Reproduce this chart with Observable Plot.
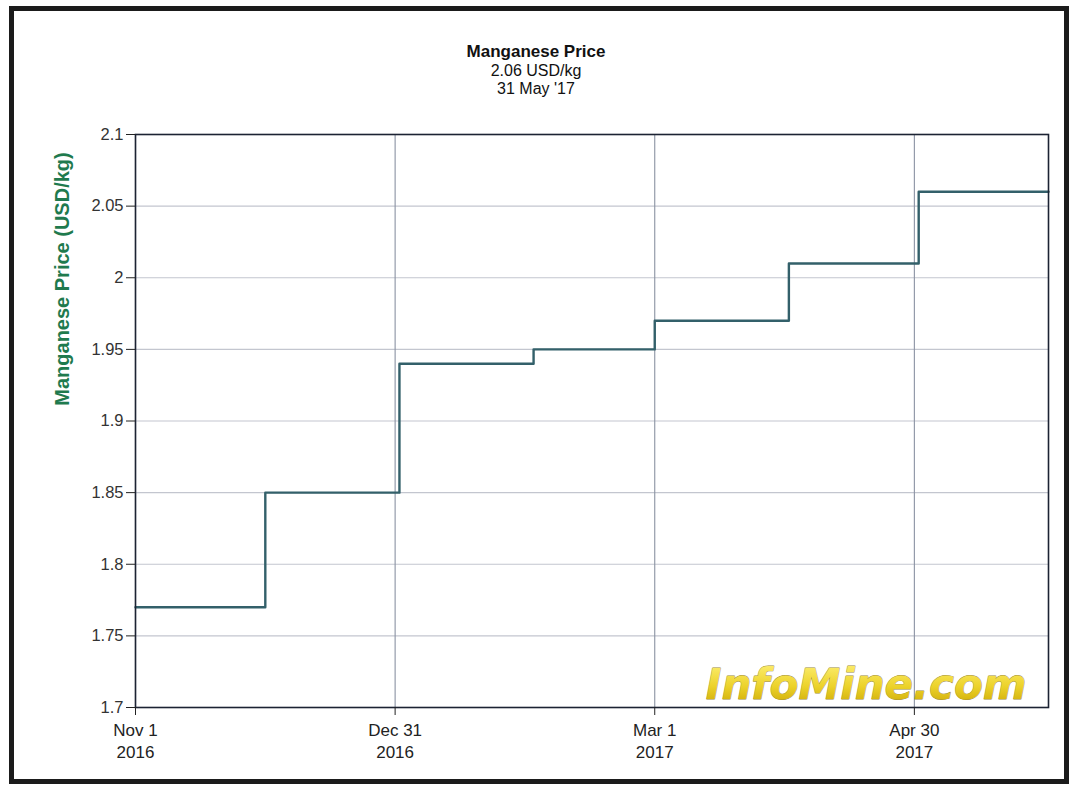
<!DOCTYPE html>
<html>
<head>
<meta charset="utf-8">
<script src="https://cdn.jsdelivr.net/npm/d3@7"></script>
<script src="https://cdn.jsdelivr.net/npm/@observablehq/plot@0.6"></script>
<style>
  html, body { margin: 0; padding: 0; background: #fff; }
  #page { position: relative; width: 1072px; height: 787px; overflow: hidden; font-family: "Liberation Sans", Arial, sans-serif; }
  #border { position: absolute; left: 9px; top: 6px; width: 1060px; height: 778px; box-sizing: border-box; border: 5px solid #1b1b1b; }
  #title { position: absolute; left: 0; top: 43px; width: 1072px; text-align: center; font-size: 16px; line-height: 18.5px; color: #111; }
  #title b { font-weight: bold; font-size: 17px; }
  #chart { position: absolute; left: 0; top: 0; }
</style>
</head>
<body>
<div id="page">
  <div id="border"></div>
  <div id="chart"></div>
  <div id="title"><b>Manganese Price</b><br>2.06 USD/kg<br>31 May '17</div>
</div>
<script>
// Daily price quotes (monthly changes), USD/kg
const dates = ["2016-11-01", "2016-12-01", "2017-01-01", "2017-02-01", "2017-03-01", "2017-04-01", "2017-05-01", "2017-05-31"];
const prices = [1.77, 1.85, 1.94, 1.95, 1.97, 2.01, 2.06, 2.06];

const xDomain = ["2016-11-01", "2017-05-31"];
const xTicks = ["2016-11-01", "2016-12-31", "2017-03-01", "2017-04-30"];
const xTickLabels = ["Nov 1\n2016", "Dec 31\n2016", "Mar 1\n2017", "Apr 30\n2017"];
const yTicks = [1.7, 1.75, 1.8, 1.85, 1.9, 1.95, 2.0, 2.05, 2.1];
const yTickLabels = ["1.7", "1.75", "1.8", "1.85", "1.9", "1.95", "2", "2.05", "2.1"];

const yLabel = "Manganese Price (USD/kg)";
const watermark = ["InfoMine.com"];

const data = dates.map((d, i) => ({date: new Date(d), price: prices[i]}));
const xTickDates = xTicks.map(d => new Date(d));
const xLabelMap = new Map(xTickDates.map((d, i) => [+d, xTickLabels[i]]));
const yLabelMap = new Map(yTicks.map((d, i) => [d, yTickLabels[i]]));

const chart = Plot.plot({
  width: 1072,
  height: 787,
  marginLeft: 135,
  marginRight: 24,
  marginTop: 134,
  marginBottom: 80,
  style: {fontFamily: "'Liberation Sans', Arial, sans-serif", fontSize: "16px", color: "#222", background: "transparent"},
  x: {type: "utc", domain: xDomain.map(d => new Date(d)), ticks: xTickDates, tickFormat: d => xLabelMap.get(+d), label: null},
  y: {domain: [1.7, 2.1], ticks: yTicks, tickFormat: d => yLabelMap.get(d), label: null},
  marks: [
    Plot.gridY(yTicks, {stroke: "#c3c6cf", strokeOpacity: 1, strokeWidth: 1.2}),
    Plot.gridX(xTickDates, {stroke: "#8a92a2", strokeOpacity: 1, strokeWidth: 1.1}),
    Plot.text(watermark, {
      frameAnchor: "bottom-right", dx: -22, dy: -9, textAnchor: "end", lineAnchor: "bottom",
      fontSize: 42, fontWeight: "bold", fontStyle: "italic", fontFamily: "'DejaVu Sans', sans-serif",
      fill: "url(#wmgrad)", stroke: "#9a8a3a", strokeWidth: 0.8
    }),
    Plot.line(data, {x: "date", y: "price", curve: "step-after", stroke: "#33606a", strokeWidth: 2.4}),
    Plot.frame({stroke: "#1c2333", strokeWidth: 1.6}),
    Plot.axisX(xTickDates, {tickSize: 8, tickPadding: 5, fontSize: 17, lineHeight: 1.3, fill: "#222", stroke: "#222", tickFormat: d => xLabelMap.get(+d), label: null}),
    Plot.axisY(yTicks, {tickSize: 9, tickPadding: 3, fontSize: 16.5, fill: "#333", tickFormat: d => yLabelMap.get(d), label: null})
  ]
});

document.getElementById("chart").appendChild(chart);

const svg = d3.select(chart);
const grad = svg.insert("defs", ":first-child").append("linearGradient")
  .attr("id", "wmgrad").attr("x1", 0).attr("y1", 0).attr("x2", 0).attr("y2", 1);
grad.append("stop").attr("offset", "0%").attr("stop-color", "#fff27a");
grad.append("stop").attr("offset", "55%").attr("stop-color", "#ecd22a");
grad.append("stop").attr("offset", "100%").attr("stop-color", "#c9a400");

svg.append("text")
  .attr("transform", "translate(69,279) rotate(-90)")
  .attr("text-anchor", "middle")
  .attr("font-size", 20)
  .attr("font-weight", "bold")
  .attr("fill", "#1f7a4e")
  .text(yLabel);
</script>
</body>
</html>
